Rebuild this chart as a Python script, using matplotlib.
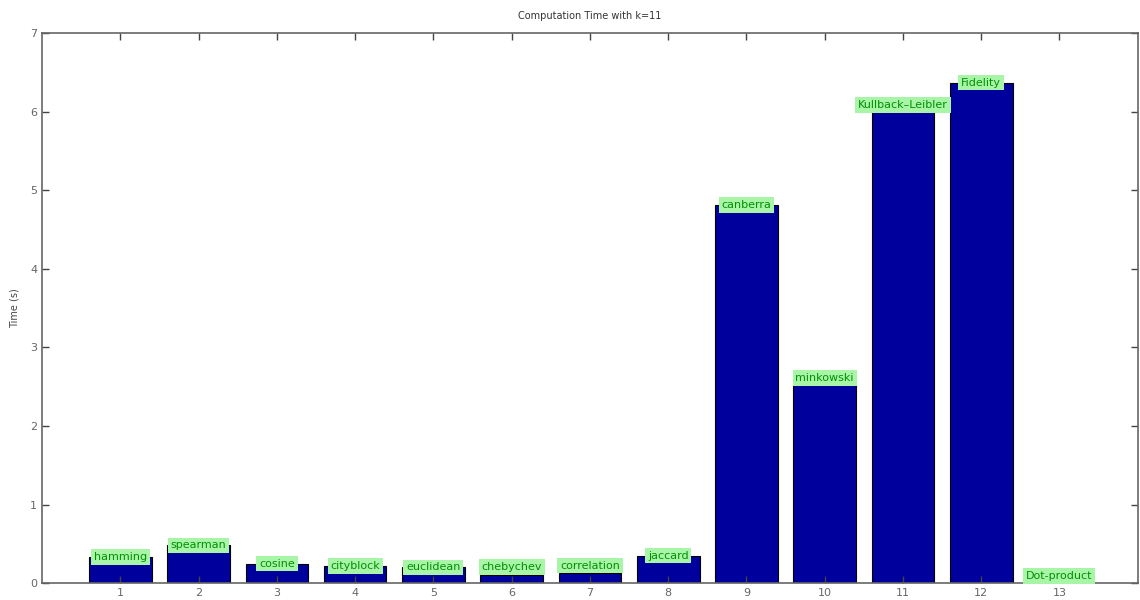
import matplotlib
matplotlib.use("Agg")
from matplotlib import pyplot as plt
import numpy as np

# data
idx = np.arange(1, 14)
times = [0.33, 0.48, 0.25, 0.22, 0.20, 0.11, 0.13, 0.35, 4.81, 2.52, 5.99, 6.37, 0.0]
names = ["hamming", "spearman", "cosine", "cityblock", "euclidean", "chebychev",
         "correlation", "jaccard", "canberra", "minkowski", "Kullback\u2013Leibler",
         "Fidelity", "Dot-product"]
# label sits above the bar (True) or over its top edge (False)
above = [False, False, False, False, False, True, True, False, False, True, True, False, True]

fig = plt.figure(figsize=(11.4, 6), dpi=100)
ax = fig.add_axes([0.037, 0.028, 0.961, 0.917])

ax.bar(idx, times, width=0.8, color="#00009c", edgecolor="black", linewidth=0.8)

for i, (x, h, s) in enumerate(zip(idx, times, names)):
    if above[i]:
        y, va = h + 0.03, "bottom"
    else:
        y, va = h, "center"
    ax.text(x, y, s, ha="center", va=va, fontsize=8, color="#009000",
            bbox=dict(boxstyle="square,pad=0.25", fc="#a8f5a8", ec="none"))

ax.set_xlim(0, 14)
ax.set_ylim(0, 7)
ax.set_xticks(idx)
ax.set_yticks(range(0, 8))
ax.tick_params(direction="in", top=True, right=True, length=5, width=1,
               labelsize=8, labelcolor="#666666", color="#444444")
for sp in ax.spines.values():
    sp.set_color("#666666")
    sp.set_linewidth(1.2)

ax.set_ylabel("Time (s)", fontsize=7, color="#444444", labelpad=8)
ax.set_title("Computation Time with k=11", fontsize=7, color="#333333", pad=10)

plt.savefig("out.png", dpi=100)
